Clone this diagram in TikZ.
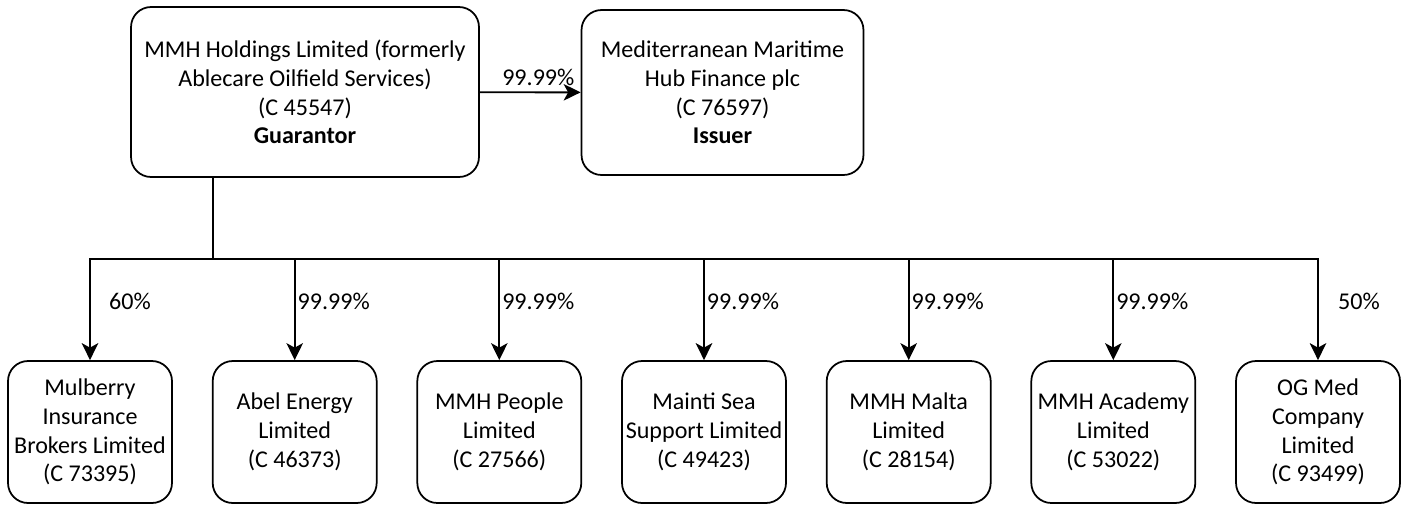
\documentclass[tikz,border=0pt]{standalone}
\usepackage{fontspec}
\setmainfont{Carlito}
\usetikzlibrary{arrows.meta, positioning}

\begin{document}
\begin{tikzpicture}[
    x=0.02cm, y=-0.02cm,
    box/.style={draw, rounded corners=0.4cm, align=center, line width=1pt,
                font=\fontsize{13.7}{16.4}\selectfont, inner sep=2pt},
    parent/.style={box, minimum width=6.96cm, minimum height=3.4cm},
    issuerbox/.style={box, minimum width=5.64cm, minimum height=3.3cm},
    sub/.style={box, minimum width=3.28cm, minimum height=2.84cm},
    pct/.style={font=\fontsize{13.7}{16}\selectfont, inner sep=1pt},
    arrow/.style={-{Stealth[length=3.4mm, width=3.3mm, inset=0.9mm]}, line width=1.1pt},
  ]
    \useasboundingbox (0,0) rectangle (1406,505);

    % Top level
    \node[parent] (guar) at (305,92) {MMH Holdings Limited (formerly\\Ablecare Oilfield Services)\\(C 45547)\\\textbf{Guarantor}};
    \node[issuerbox] (iss) at (722.5,92.5) {Mediterranean Maritime\\Hub Finance plc\\(C 76597)\\\textbf{Issuer}};

    % Subsidiaries
    \node[sub] (mulberry) at (90,432) {Mulberry\\Insurance\\Brokers Limited\\(C 73395)};
    \node[sub] (abel) at (294.7,432) {Abel Energy\\Limited\\(C 46373)};
    \node[sub] (people) at (499.3,432) {MMH People\\Limited\\(C 27566)};
    \node[sub] (mainti) at (704,432) {Mainti Sea\\Support Limited\\(C 49423)};
    \node[sub] (malta) at (908.7,432) {MMH Malta\\Limited\\(C 28154)};
    \node[sub] (academy) at (1113.3,432) {MMH Academy\\Limited\\(C 53022)};
    \node[sub] (ogmed) at (1318,432) {OG Med\\Company\\Limited\\(C 93499)};

    % Split point under the guarantor
    \coordinate (split) at (213,259);

    % Arrows
    \draw[arrow] (guar) -- node[pct, above=2pt, pos=0.58] {99.99\%} (iss);
    \draw[line width=1.1pt] (guar.south -| split) -- (split);
    \draw[arrow] (split) -| node[pct, pos=0.71, xshift=0.8cm] {60\%} (mulberry);
    \draw[arrow] (split) -| node[pct, pos=0.71, xshift=0.78cm] {99.99\%} (abel);
    \draw[arrow] (split) -| node[pct, pos=0.71, xshift=0.78cm] {99.99\%} (people);
    \draw[arrow] (split) -| node[pct, pos=0.71, xshift=0.78cm] {99.99\%} (mainti);
    \draw[arrow] (split) -| node[pct, pos=0.71, xshift=0.78cm] {99.99\%} (malta);
    \draw[arrow] (split) -| node[pct, pos=0.71, xshift=0.78cm] {99.99\%} (academy);
    \draw[arrow] (split) -| node[pct, pos=0.71, xshift=0.82cm] {50\%} (ogmed);
  \end{tikzpicture}
\end{document}
